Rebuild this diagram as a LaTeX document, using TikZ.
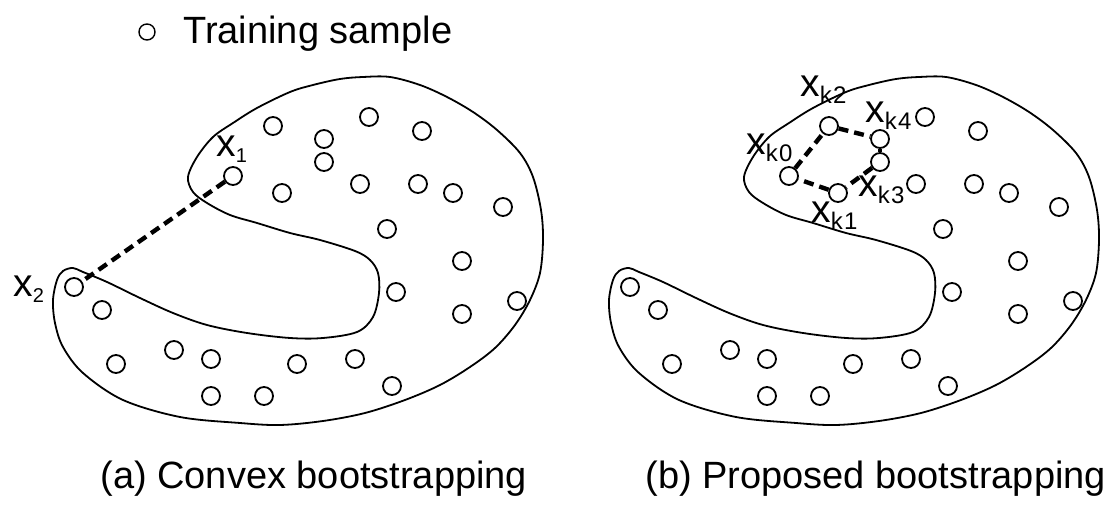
\documentclass[tikz,border=0pt]{standalone}
\usepackage{fontspec}
\setmainfont{Liberation Sans}

% x with a lowered index, and x_{k i}
\newcommand{\xn}[1]{x\raisebox{-3pt}{\fontsize{10}{10}\selectfont #1}}
\newcommand{\xk}[1]{x\raisebox{-3.5pt}{\fontsize{12}{12}\selectfont k\hspace{0.6pt}#1}}

\begin{document}
\begin{tikzpicture}[x=0.5pt,y=-0.5pt,
  smp/.style={draw,circle,minimum size=9pt,inner sep=0pt,line width=0.9pt},
  lbl/.style={inner sep=0pt,anchor=base west,font=\fontsize{19.5}{22}\selectfont},
  captxt/.style={inner sep=0pt,anchor=base west,font=\fontsize{19}{23}\selectfont},
  link/.style={line width=2.2pt,dash pattern=on 5pt off 3pt}]
\useasboundingbox (0,0) rectangle (1112,506);

% legend
\node[smp,minimum size=8pt,line width=0.7pt] (key) at (147,32) {};
\node[captxt] (keytxt) at (183,44) {Training sample};

% the two regions
\foreach \dx in {0,556}
\draw[line width=0.9pt,shift={(\dx,0)}] plot[smooth cycle,tension=0.55] coordinates {
  (73,268) (83,272) (107,282) (140,298) (173,313) (207,325) (247,333)
  (290,338) (323,338) (357,332) (373,317) (379,293) (378,273) (370,260)
  (355,251) (320,240) (290,233) (257,223) (230,215) (207,203) (193,192)
  (188,177) (197,157) (213,137) (233,123) (257,108) (290,92) (313,85)
  (340,79) (363,77) (390,77) (420,85) (447,97) (473,112) (497,130)
  (520,153) (533,177) (541,210) (543,240) (540,273) (530,300) (515,325)
  (495,348) (470,367) (440,385) (405,400) (365,413) (323,421)
  (280,425) (240,423) (180,417) (123,400) (83,373) (63,347) (55,323)
  (53,300) (57,280) (63,271)};

% samples, same set in both panels
\foreach \p [count=\i] in {(233,176),(74,287),(273,126),(324,139),(324,162),
    (282,193),(369,117),(422,131),(360,184),(418,184),(453,193),(503,207),
    (387,229),(462,261),(396,292),(517,301),(462,314),(102,310),(116,364),
    (174,350),(211,359),(211,396),(264,396),(297,364),(355,359),(392,386)} {
  \node[smp] (a\i) at \p {};
  \node[smp,xshift=278pt] (b\i) at \p {};
}

% (a) straight segment
\draw[link] (a1) -- (a2);
\node[lbl] (lx1) at (216,157) {\xn{1}};
\node[lbl] (lx2) at (13,297) {\xn{2}};

% (b) chain of neighbours
\draw[link] (b1) -- (b3);
\draw[link] (b3) -- (b4);
\draw[link] (b4) -- (b5);
\draw[link] (b5) -- (b6);
\draw[link] (b6) -- (b1);
\node[lbl] (lk0) at (746,155) {\xk{0}};
\node[lbl] (lk2) at (800,97) {\xk{2}};
\node[lbl] (lk1) at (811,223) {\xk{1}};
\node[lbl] (lk4) at (865,123) {\xk{4}};
\node[lbl] (lk3) at (858,197) {\xk{3}};

% captions
\node[captxt] (capa) at (100,489) {(a) Convex bootstrapping};
\node[captxt] (capb) at (645,489) {(b) Proposed bootstrapping};
\end{tikzpicture}
\end{document}
